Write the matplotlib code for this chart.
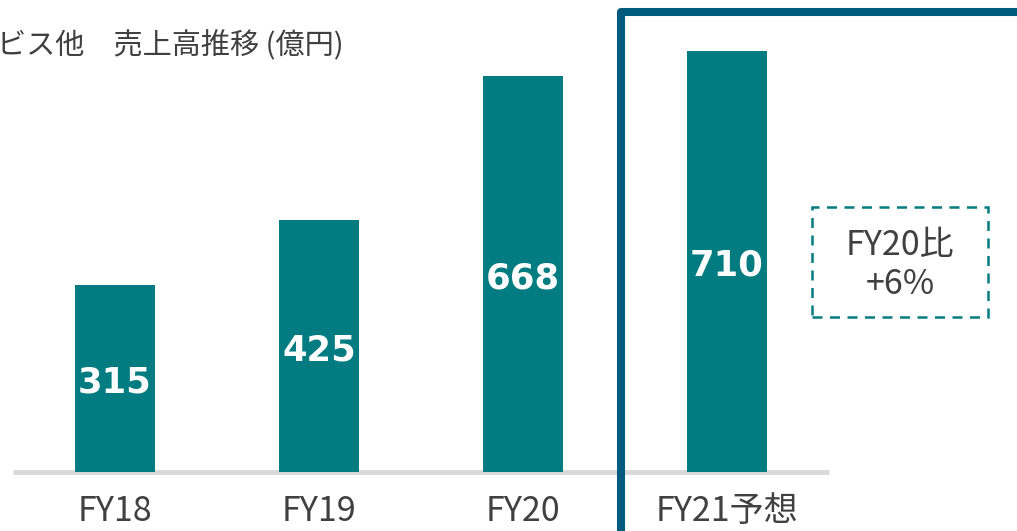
# -*- coding: utf-8 -*-
# Sales trend bar chart (FY18 - FY21 forecast)

import numpy as np
import matplotlib.pyplot as plt
from matplotlib.patches import Rectangle

plt.rcParams['font.family'] = ['Noto Sans CJK JP', 'DejaVu Sans']

# data
categories = ['FY18', 'FY19', 'FY20', 'FY21予想']
sales = [315, 425, 668, 710]
title = 'ビス他　売上高推移 (億円)'
note = 'FY20比\n+6%'

bar_color = '#037c81'
text_color = '#404040'
frame_color = '#005b7e'

W, H = 1017, 531
fig = plt.figure(figsize=(W / 100, H / 100), dpi=100)
ax = fig.add_axes([0, 0, 1, 1])
ax.set_axis_off()

# map data to the picture: category step 204 px, value 0.593 px per unit
px_x, px_y = 204.0, 0.593
x0, y0 = 115.0, 59.0
ax.set_xlim(-x0 / px_x, (W - x0) / px_x)
ax.set_ylim(-y0 / px_y, (H - y0) / px_y)

x = np.arange(len(categories))
ax.bar(x, sales, width=0.39, color=bar_color, zorder=2)

# baseline
ax.plot([-0.5, 3.5], [0, 0], color='#d9d9d9', lw=3.5, solid_capstyle='butt', zorder=1)

# value labels inside bars (a bit below the middle)
for xi, v in zip(x, sales):
    ax.text(xi, v / 2 - 7, str(v), ha='center', va='center', color='white',
            fontsize=25.5, fontweight='bold', family='DejaVu Sans', zorder=3)

# category labels
for xi, c in zip(x, categories):
    ax.text(xi, -66, c, ha='center', va='center', color=text_color, fontsize=24.5)

# title (cut at the left edge, as in the source slide)
fig.text(-3 / W, 1 - 46 / H, title, ha='left', va='center', color=text_color, fontsize=21)

# frame around forecast
fig.add_artist(Rectangle((621 / W, -0.05), 0.5, 1 - 11.5 / H + 0.05,
                         transform=fig.transFigure, fill=False,
                         edgecolor=frame_color, lw=5.8, joinstyle='round'))

# dashed note box
bx0, bx1 = (812 - x0) / px_x, (988 - x0) / px_x
by0, by1 = (H - 317 - y0) / px_y, (H - 207 - y0) / px_y
ax.add_patch(Rectangle((bx0, by0), bx1 - bx0, by1 - by0, fill=False,
                       edgecolor=bar_color, lw=1.8, linestyle=(0, (4, 3))))
ax.text((bx0 + bx1) / 2, (by0 + by1) / 2 - 5, note, ha='center', va='center',
        color=text_color, fontsize=24.5, linespacing=1.12)

plt.savefig('out.png', dpi=100)
